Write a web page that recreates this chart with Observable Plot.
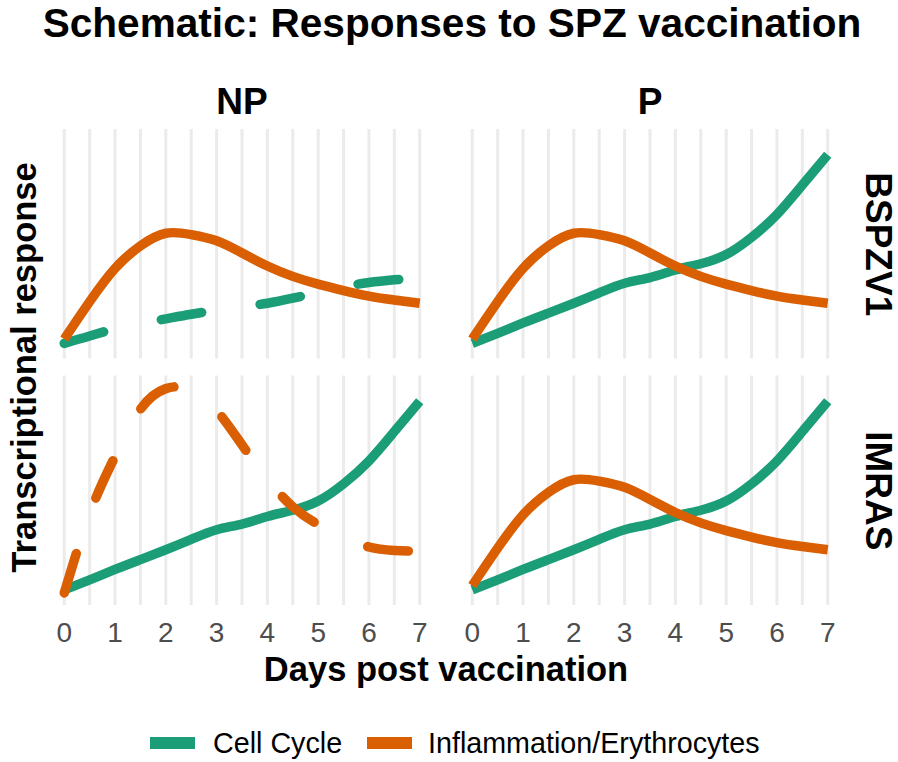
<!DOCTYPE html>
<html>
<head>
<meta charset="utf-8">
<script src="https://cdn.jsdelivr.net/npm/d3@7"></script>
<script src="https://cdn.jsdelivr.net/npm/@observablehq/plot@0.6"></script>
<style>
  body { margin: 0; background: #fff; font-family: "Liberation Sans", Arial, sans-serif; }
  #wrap { width: 898px; height: 762px; position: relative; overflow: hidden; }
  #title { height: 60px; font-size: 40.6px; font-weight: bold; text-align: center; line-height: 46px; color: #000; padding-left: 6px; }
  #chart { height: 650px; }
  .key { position: absolute; height: 12px; width: 45px; }
  .ltext { position: absolute; font-size: 28.7px; line-height: 28.7px; color: #000; white-space: nowrap; }
</style>
</head>
<body>
<div id="wrap">
  <div id="title">Schematic: Responses to SPZ vaccination</div>
  <div id="chart"></div>
  <div id="legend"></div>
</div>
<script>
// ---- data ----
const days = [0, 0.5, 1, 1.5, 2, 2.5, 3, 3.5, 4, 4.5, 5, 5.5, 6, 6.5, 7];
const xTicks = [0, 1, 2, 3, 4, 5, 6, 7];
const gridTicks = [0, 0.5, 1, 1.5, 2, 2.5, 3, 3.5, 4, 4.5, 5, 5.5, 6, 6.5, 7];
const cols = ["NP", "P"];
const rows = ["BSPZV1", "IMRAS"];
const seriesNames = ["Cell Cycle", "Inflammation/Erythrocytes"];
const seriesColors = ["#1B9E77", "#D95F02"];

// relative transcriptional response (schematic units)
const cellCycle = [0.068, 0.112, 0.157, 0.2, 0.243, 0.288, 0.33, 0.355, 0.388, 0.415, 0.455, 0.53, 0.63, 0.758, 0.89];
const inflammation = [0.087, 0.25, 0.395, 0.493, 0.548, 0.542, 0.515, 0.462, 0.405, 0.36, 0.326, 0.298, 0.274, 0.257, 0.243];
const cellCycleNP_BSPZV1 = [0.068, 0.1, 0.132, 0.155, 0.175, 0.195, 0.212, 0.227, 0.243, 0.265, 0.29, 0.315, 0.333, 0.345, 0.355];
const inflammationNP_IMRAS = [0.055, 0.4, 0.65, 0.855, 0.945, 0.94, 0.85, 0.7, 0.55, 0.43, 0.353, 0.3, 0.255, 0.24, 0.236];

// panel -> [series, values, dashed]
const panels = [
  {col: "NP", row: "BSPZV1", cc: cellCycleNP_BSPZV1, ccDash: true, inf: inflammation, infDash: false},
  {col: "P", row: "BSPZV1", cc: cellCycle, ccDash: false, inf: inflammation, infDash: false},
  {col: "NP", row: "IMRAS", cc: cellCycle, ccDash: false, inf: inflammationNP_IMRAS, infDash: true},
  {col: "P", row: "IMRAS", cc: cellCycle, ccDash: false, inf: inflammation, infDash: false}
];

const table = [];
for (const p of panels) {
  days.forEach((d, i) => table.push({day: d, value: p.cc[i], series: seriesNames[0], col: p.col, row: p.row, dashed: p.ccDash}));
  days.forEach((d, i) => table.push({day: d, value: p.inf[i], series: seriesNames[1], col: p.col, row: p.row, dashed: p.infDash}));
}

const lineOpts = {x: "day", y: "value", z: "series", stroke: "series", fx: "col", fy: "row",
  strokeWidth: 9.5, curve: "natural", strokeLinejoin: "round"};
const sel = (s, dash) => table.filter(d => d.series === s && d.dashed === dash);

const chart = Plot.plot({
  width: 898,
  height: 650,
  marginTop: 69,
  marginBottom: 105,
  marginLeft: 46,
  marginRight: 53,
  style: {fontFamily: "'Liberation Sans', Arial, sans-serif", background: "white"},
  x: {domain: [-0.35, 7.35]},
  y: {domain: [0, 1], axis: null},
  fx: {domain: cols, paddingInner: 17 / 408, paddingOuter: 0, round: false},
  fy: {domain: rows, paddingInner: 17 / 246.5, paddingOuter: 0, round: false},
  color: {domain: seriesNames, range: seriesColors},
  marks: [
    Plot.gridX({ticks: gridTicks, stroke: "#EBEBEB", strokeOpacity: 1, strokeWidth: 3}),
    Plot.axisX({ticks: xTicks, tickSize: 0, tickPadding: 17, fontSize: 28, color: "#4D4D4D", label: null}),
    Plot.axisFx({anchor: "top", tickSize: 0, tickPadding: 16, fontSize: 37, fontWeight: "bold", label: null}),
    Plot.axisFy({anchor: "right", tickSize: 0, tickPadding: 20, tickRotate: 90, textAnchor: "middle", lineAnchor: "bottom", fontSize: 37, fontWeight: "bold", label: null}),
    Plot.line(sel(seriesNames[0], false), {...lineOpts, strokeLinecap: "butt"}),
    Plot.line(sel(seriesNames[0], true), {...lineOpts, strokeLinecap: "round", strokeDasharray: "41,59"}),
    Plot.line(sel(seriesNames[1], false), {...lineOpts, strokeLinecap: "butt"}),
    Plot.line(sel(seriesNames[1], true), {...lineOpts, strokeLinecap: "round", strokeDasharray: "41,59"}),
    Plot.text(["Days post vaccination"], {frameAnchor: "bottom", dy: 75, textAnchor: "middle", lineAnchor: "bottom", facet: "super", fontSize: 34.5, fontWeight: "bold", fill: "black"}),
    Plot.text(["Transcriptional response"], {frameAnchor: "left", rotate: -90, dx: -11, textAnchor: "middle", lineAnchor: "bottom", facet: "super", fontSize: 34.5, fontWeight: "bold", fill: "black"})
  ]
});
document.getElementById("chart").appendChild(chart);

// legend (HTML)
const legend = document.getElementById("legend");
const items = [
  {name: seriesNames[0], color: seriesColors[0], keyX: 150, textX: 213},
  {name: seriesNames[1], color: seriesColors[1], keyX: 367, textX: 428}
];
for (const it of items) {
  const k = document.createElement("div");
  k.className = "key";
  k.style.left = it.keyX + "px";
  k.style.top = "737px";
  k.style.background = it.color;
  legend.appendChild(k);
  const t = document.createElement("div");
  t.className = "ltext";
  t.style.left = it.textX + "px";
  t.style.top = "729px";
  t.textContent = it.name;
  legend.appendChild(t);
}
</script>
</body>
</html>
